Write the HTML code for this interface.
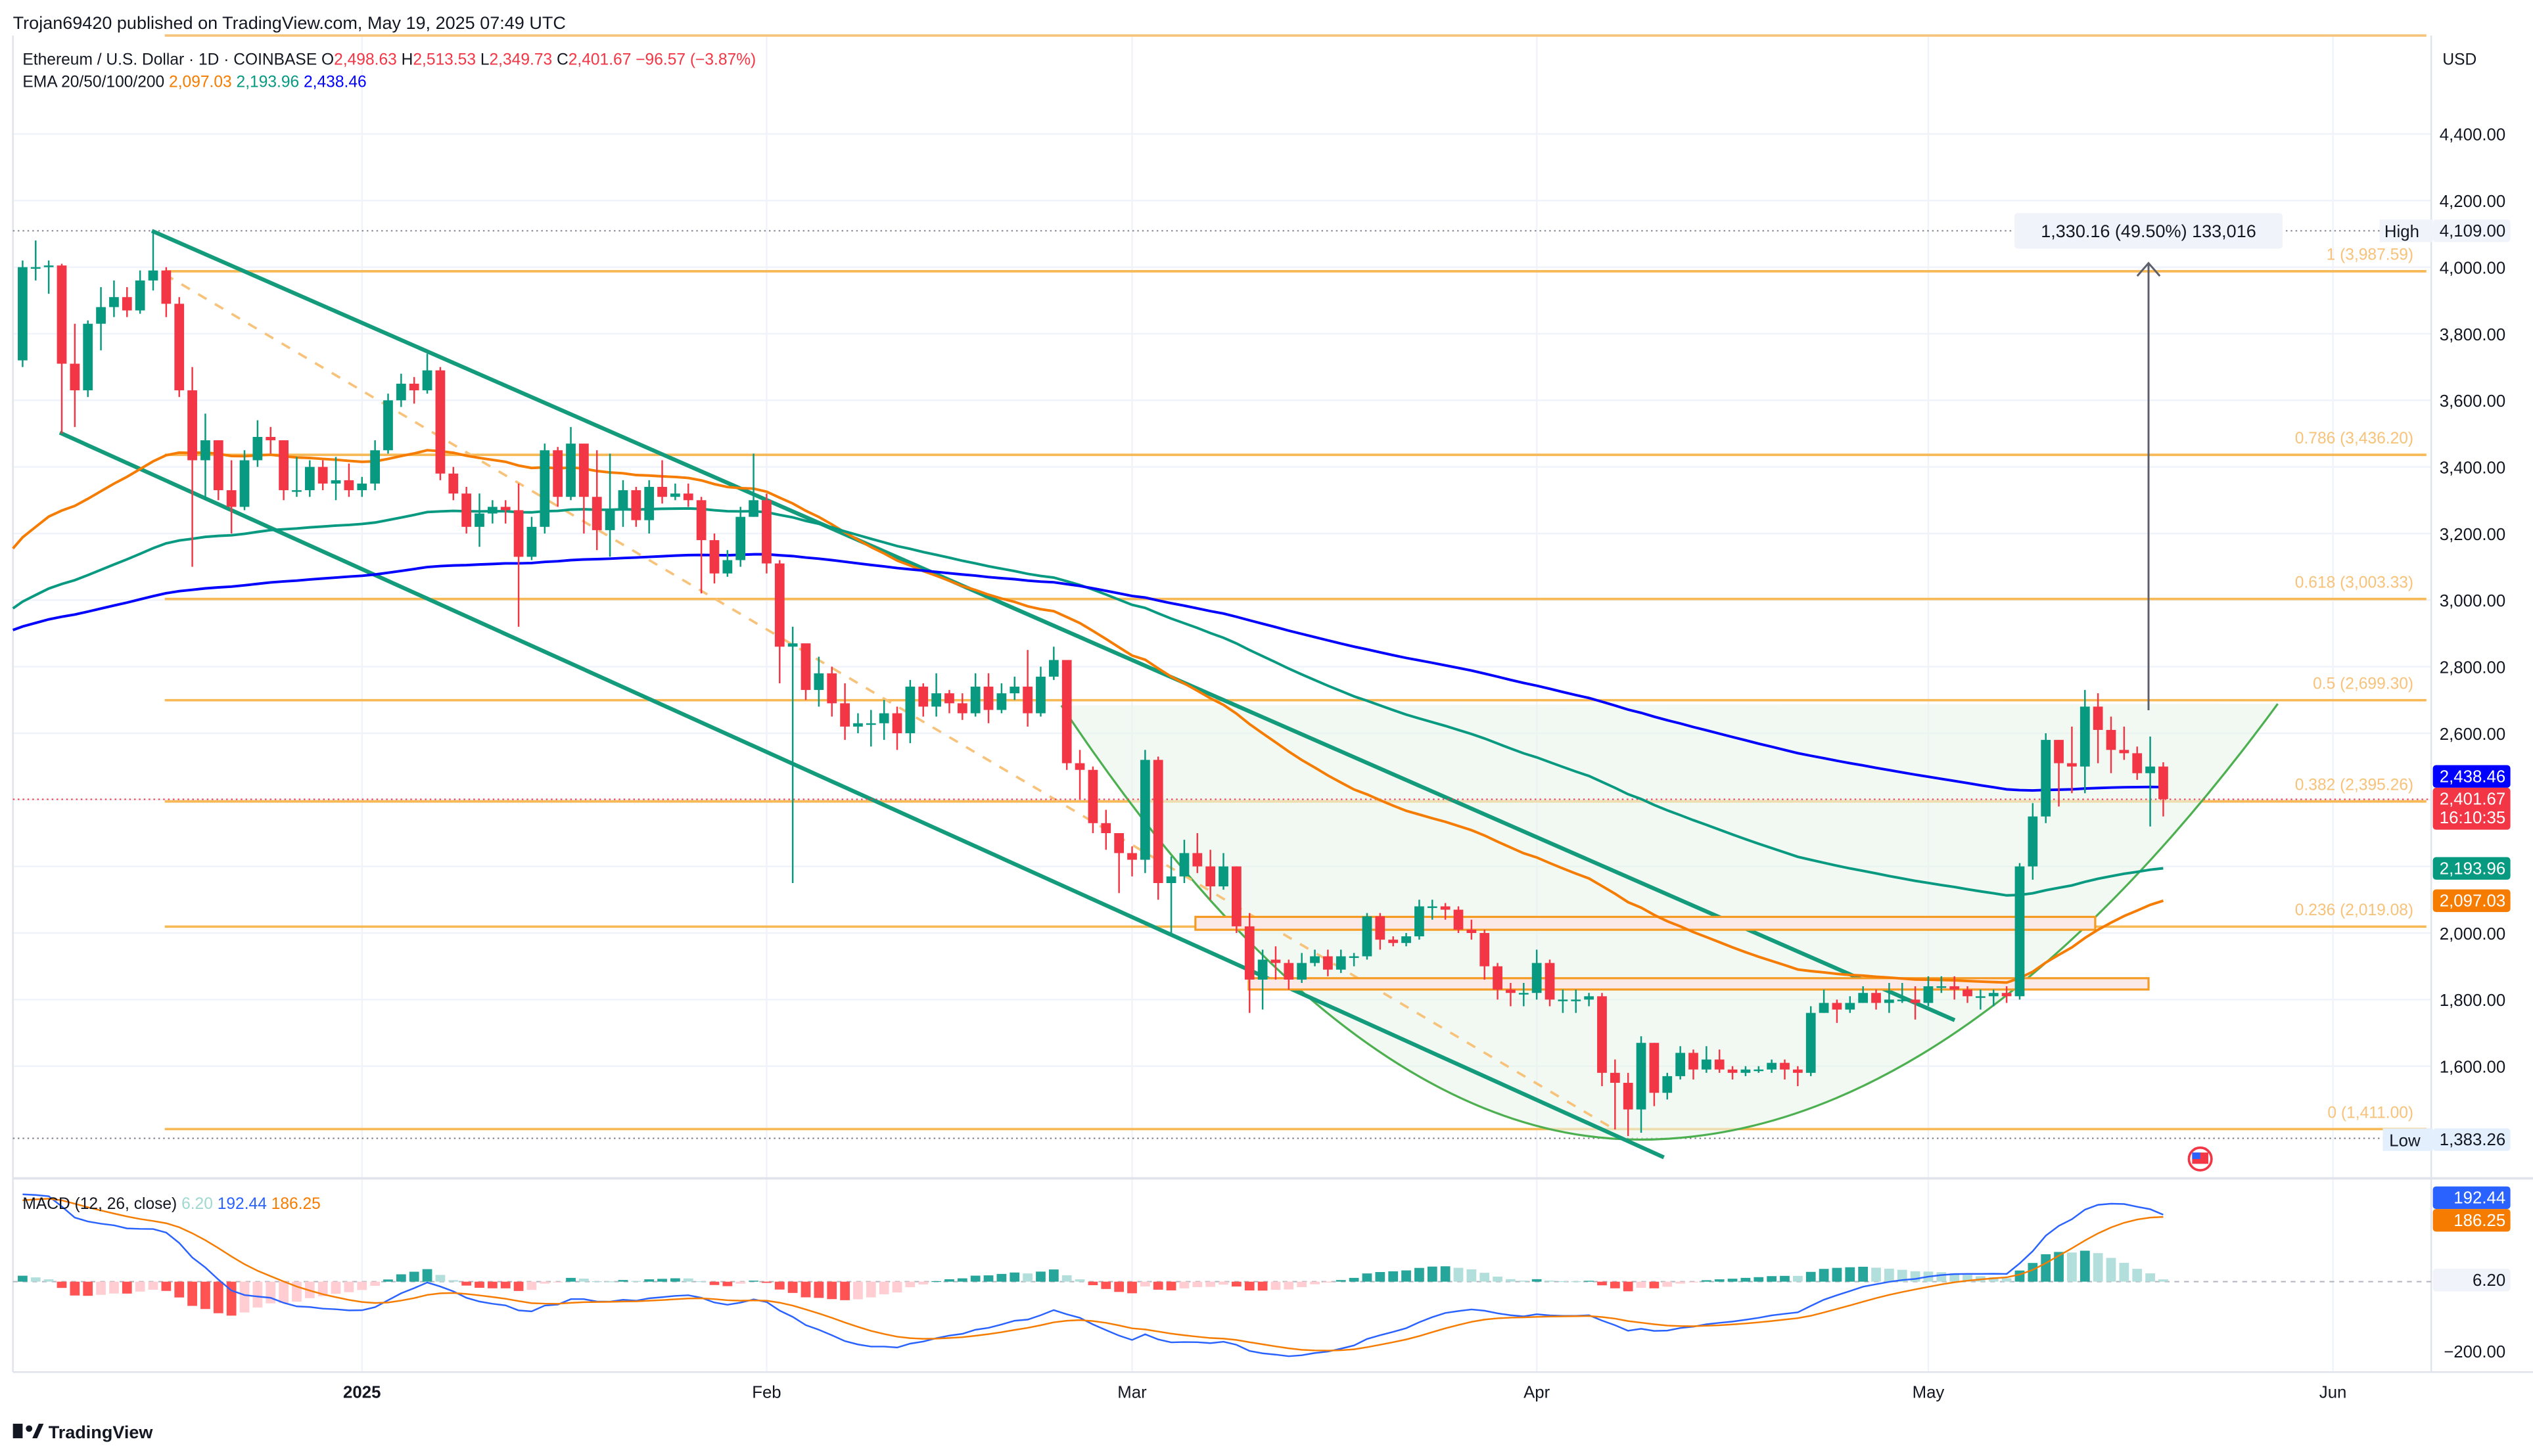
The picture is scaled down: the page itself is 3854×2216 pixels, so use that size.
<!DOCTYPE html>
<html><head><meta charset="utf-8">
<style>
html,body{margin:0;padding:0;background:#fff;}
svg{display:block;font-family:"Liberation Sans",Arial,sans-serif;}
</style></head>
<body>
<svg id="chart" width="3854" height="2216" viewBox="0 0 1568 902" preserveAspectRatio="none" xmlns="http://www.w3.org/2000/svg">
<rect x="0" y="0" width="1568" height="902" fill="#ffffff"/>
<text x="8" y="18" font-size="11" fill="#131722">Trojan69420 published on TradingView.com, May 19, 2025 07:49 UTC</text>
<g id="grid"></g>
<g id="fibs"></g>
<g id="draw"></g>
<g id="emas"></g>
<g id="candles"></g>
<g id="macd"></g>
<g id="axis"></g>
<text x="14" y="40" font-size="10" fill="#131722">Ethereum / U.S. Dollar · 1D · COINBASE  O<tspan fill="#f23645">2,498.63</tspan>  H<tspan fill="#f23645">2,513.53</tspan>  L<tspan fill="#f23645">2,349.73</tspan>  C<tspan fill="#f23645">2,401.67</tspan>  <tspan fill="#f23645">−96.57 (−3.87%)</tspan></text>
<text x="14" y="54" font-size="10" fill="#131722">EMA 20/50/100/200  <tspan fill="#f57c00">2,097.03</tspan>  <tspan fill="#089981">2,193.96</tspan>  <tspan fill="#0000ff">2,438.46</tspan></text>
<text x="14" y="749" font-size="10" fill="#131722">MACD (12, 26, close)  <tspan fill="#9fd8d0">6.20</tspan>  <tspan fill="#2962ff">192.44</tspan>  <tspan fill="#f57c00">186.25</tspan></text>
<text x="1512" y="40" font-size="10" fill="#131722">USD</text>
<g><rect x="8" y="882" width="6" height="9" fill="#131722"/><circle cx="18" cy="885" r="2" fill="#131722"/><path d="M20 891 L24 882 L27 882 L23 891Z" fill="#131722"/><text x="30" y="891" font-size="11" font-weight="bold" fill="#131722">TradingView</text></g>
</svg>
<script>
const closes=[4000,4000,4005,3710,3630,3830,3880,3910,3870,3960,3990,3890,3630,3420,3480,3330,3280,3420,3490,3480,3330,3330,3400,3350,3360,3330,
3350,3450,3600,3650,3630,3690,3380,3320,3220,3260,3280,3270,3130,3220,3450,3310,3470,3310,3210,3270,3330,3240,3340,3310,3320,3300,3180,3080,3120,3250,3300,
3110,2860,2870,2730,2780,2690,2620,2630,2630,2660,2600,2740,2680,2720,2690,2660,2740,2670,2720,2740,2660,2770,2820,2510,2490,2330,2300,2240,
2220,2520,2150,2170,2240,2200,2140,2200,2020,1860,1920,1910,1860,1910,1930,1890,1930,1930,2050,1980,1970,1990,2080,2080,2070,2010,2000,1900,1830,1820,1820,
1910,1800,1800,1800,1810,1580,1550,1470,1670,1520,1570,1640,1590,1620,1590,1580,1590,1590,1610,1590,1580,1760,1790,1770,1790,1820,1790,1800,1800,1790,
1840,1840,1830,1810,1810,1820,1810,2200,2350,2580,2510,2500,2680,2610,2550,2540,2480,2500,2402];
const highs=[4020,4080,4020,4010,3830,3840,3940,3960,3940,3990,4109,4000,3910,3700,3560,3480,3420,3450,3540,3520,3480,3430,3420,3420,3430,3410,
3370,3480,3620,3680,3670,3740,3700,3400,3340,3320,3300,3300,3350,3250,3470,3460,3520,3450,3450,3440,3360,3340,3360,3420,3350,3350,3310,3200,3150,3280,3440,
3320,3120,2920,2820,2830,2800,2750,2660,2670,2700,2680,2760,2750,2780,2730,2720,2780,2780,2750,2770,2850,2800,2860,2820,2550,2500,2370,2300,
2260,2550,2530,2230,2280,2300,2250,2240,2200,2060,1950,1960,1920,1940,1950,1950,1950,1940,2060,2060,1990,2000,2100,2100,2090,2080,2040,2010,1910,1850,1850,
1950,1920,1830,1830,1820,1820,1620,1580,1690,1670,1580,1660,1650,1660,1650,1600,1600,1600,1620,1620,1600,1780,1830,1800,1810,1840,1830,1850,1850,1840,
1870,1870,1870,1840,1830,1830,1840,2210,2390,2600,2580,2620,2730,2720,2650,2620,2560,2590,2513];
const lows=[3700,3960,3920,3500,3520,3610,3750,3850,3850,3860,3930,3850,3610,3100,3300,3300,3200,3270,3400,3440,3300,3310,3310,3330,3300,3310,
3310,3330,3440,3580,3590,3620,3360,3300,3200,3160,3230,3230,2920,3120,3200,3280,3300,3200,3150,3130,3220,3220,3200,3290,3300,3280,3020,3050,3070,3100,3250,
3080,2750,2150,2700,2680,2650,2580,2600,2560,2580,2550,2570,2650,2650,2660,2640,2650,2630,2660,2700,2620,2650,2760,2490,2400,2300,2250,2120,
2170,2180,2100,2000,2150,2180,2100,2130,2000,1760,1770,1860,1830,1850,1900,1870,1880,1900,1920,1950,1960,1960,1980,2040,2040,2000,1980,1860,1800,1780,1780,
1800,1780,1760,1760,1780,1540,1410,1390,1400,1480,1500,1560,1560,1580,1580,1560,1570,1580,1580,1560,1540,1570,1760,1730,1760,1790,1770,1760,1790,1740,
1780,1820,1800,1790,1770,1780,1790,1800,2160,2330,2380,2420,2420,2510,2480,2520,2460,2320,2350];
const firstOpen=3720;
const fibRatios=["1","0.786","0.618","0.5","0.382","0.236","0"];
const fibPrices=[3987.59,3436.20,3003.33,2699.30,2395.26,2019.08,1411.00];
const priceTicks=[4400,4200,4000,3800,3600,3400,3200,3000,2800,2600,2400,2200,2000,1800,1600];
const dateLabels=["2025","Feb","Mar","Apr","May","Jun"];
const dateIdx=[26,57,85,116,146,177];
const emaPeriods=[50,100,200];
const emaSeeds=[3155,2975,2910];
const emaColors=["#f57c00","#089981","#0000ff"];
const emaNames=["ema-50","ema-100","ema-200"];

const NS="http://www.w3.org/2000/svg";
function el(tag,attrs,parent){const e=document.createElementNS(NS,tag);for(const k in attrs)e.setAttribute(k,attrs[k]);parent.appendChild(e);return e;}
const X=i=>14+i*8.08;
const Y=p=>578-(p-2000)*0.20625;
const MY=v=>794-v*0.215;
const fmt=v=>v.toLocaleString('en-US',{minimumFractionDigits:2,maximumFractionDigits:2});
const grid=document.getElementById('grid'),fibs=document.getElementById('fibs'),draw=document.getElementById('draw'),emas=document.getElementById('emas'),cg=document.getElementById('candles'),mg=document.getElementById('macd'),ax=document.getElementById('axis');

// grid
priceTicks.forEach(p=>{const l=el('line',{x1:8,x2:1505,y1:Y(p),y2:Y(p),stroke:'#f0f3fa','stroke-width':1},grid);

});
dateIdx.forEach((d,k)=>{const x=X(d);const l=el('line',{x1:x,x2:x,y1:22,y2:850,stroke:'#f0f3fa','stroke-width':1},grid);


const t=el('text',{x:x,y:866,'font-size':10.5,'text-anchor':'middle',fill:'#131722','font-weight':k==0?'bold':'normal'},grid);t.textContent=dateLabels[k];

});
el('line',{x1:8,x2:1568,y1:730,y2:730,stroke:'#e0e3eb','stroke-width':1.5},grid);
el('line',{x1:1505,x2:1505,y1:22,y2:850,stroke:'#e0e3eb','stroke-width':1},grid);
el('line',{x1:8,x2:1568,y1:850,y2:850,stroke:'#e0e3eb','stroke-width':1},grid);
el('line',{x1:8,x2:8,y1:22,y2:850,stroke:'#e0e3eb','stroke-width':1},grid);
el('line',{x1:8,x2:1505,y1:143,y2:143,stroke:'#787b86','stroke-width':0.8,'stroke-dasharray':'1,2'},grid);
el('line',{x1:8,x2:1505,y1:Y(1383.26),y2:Y(1383.26),stroke:'#787b86','stroke-width':0.8,'stroke-dasharray':'1,2'},grid);

// fibs
el('line',{x1:102,x2:1502,y1:22,y2:22,stroke:'#f7c27a','stroke-width':1.5},fibs);
fibPrices.forEach((p,k)=>{const y=Y(p);const l=el('line',{x1:102,x2:1502,y1:y,y2:y,stroke:'#f7b955','stroke-width':1.5},fibs);


const t=el('text',{x:1494,y:y-7,'font-size':10,'text-anchor':'end',fill:'#f7c27a'},fibs);t.textContent=fibRatios[k]+' ('+fmt(p)+')';

});

// drawings
const fill=el('path',{d:'M657 437 Q836 706 1015 706 Q1212 706 1410 436 Z',fill:'#e8f5e9','fill-opacity':0.6},draw);


const arc=el('path',{d:'M657 437 Q836 706 1015 706 Q1212 706 1410 436',fill:'none',stroke:'#4caf50','stroke-width':1.3},draw);


const ch1=el('line',{x1:94,y1:143,x2:1210,y2:632,stroke:'#139b7b','stroke-width':2.5},draw);


const ch2=el('line',{x1:37,y1:268,x2:1030,y2:717,stroke:'#139b7b','stroke-width':2.5},draw);


const dl=el('line',{x1:102,y1:170,x2:1000,y2:700,stroke:'#f7c27a','stroke-width':1.5,'stroke-dasharray':'6,6'},draw);


const b1=el('rect',{x:740,y:568,width:557,height:8,fill:'#fbe9e7',stroke:'#f59a23','stroke-width':1.3},draw);


const b2=el('rect',{x:773,y:606,width:557,height:7,fill:'#fbe9e7',stroke:'#f59a23','stroke-width':1.3},draw);


const ar=el('line',{x1:1330,y1:440,x2:1330,y2:164,stroke:'#5d606b','stroke-width':1.2},draw);


el('path',{d:'M1323 171 L1330 163 L1337 171',fill:'none',stroke:'#5d606b','stroke-width':1.2},draw);
const mb=el('rect',{x:1247,y:132,width:166,height:22,rx:2,fill:'#f0f3fa'},draw);


const mt=el('text',{x:1330,y:147,'font-size':11,'text-anchor':'middle',fill:'#131722'},draw);mt.textContent='1,330.16 (49.50%) 133,016';


el('line',{x1:8,x2:1505,y1:Y(2401.67),y2:Y(2401.67),stroke:'#f23645','stroke-width':0.8,'stroke-dasharray':'1,2'},draw);

// EMAs
emaPeriods.forEach((per,k)=>{let e=emaSeeds[k];const a=2/(per+1);let d='';
closes.forEach((c,i)=>{e=e+a*(c-e);d+=(i?'L':'M')+X(i).toFixed(1)+' '+Y(e).toFixed(1);});
const p=el('path',{d:'M8 '+Y(emaSeeds[k]).toFixed(1)+' L'+d.slice(1),fill:'none',stroke:emaColors[k],'stroke-width':1.6},emas);

});

// candles
closes.forEach((c,i)=>{const o=i?closes[i-1]:firstOpen;const up=c>=o;const col=up?'#089981':'#f23645';const x=X(i);
const g=el('g',{},cg);


el('line',{x1:x,x2:x,y1:Y(highs[i]),y2:Y(lows[i]),stroke:col,'stroke-width':1},g);
const top=Y(Math.max(o,c)),bot=Y(Math.min(o,c));
el('rect',{x:x-3,y:top,width:6,height:Math.max(1,bot-top),fill:col},g);});

// MACD
let e12=3750,e26=3500,sig=230;const mline=[],sline=[],hist=[];
closes.forEach(c=>{e12+=2/13*(c-e12);e26+=2/27*(c-e26);const m=e12-e26;sig+=2/10*(m-sig);mline.push(m);sline.push(sig);hist.push(m-sig);});
el('line',{x1:8,x2:1505,y1:MY(0),y2:MY(0),stroke:'#b2b5be','stroke-width':0.8,'stroke-dasharray':'3,3'},mg);
hist.forEach((h,i)=>{const prev=i?hist[i-1]:h;let col;
if(h>=0)col=h>=prev?'#26a69a':'#b2dfdb';else col=h<prev?'#ff5252':'#ffcdd2';
const y0=MY(0),y1=MY(h);const r=el('rect',{x:X(i)-3,y:Math.min(y0,y1),width:6,height:Math.max(0.5,Math.abs(y1-y0)),fill:col},mg);

});
[[mline,'#2962ff','macd-line'],[sline,'#f57c00','signal-line']].forEach(([arr,col,nm])=>{let d='';arr.forEach((v,i)=>{d+=(i?'L':'M')+X(i).toFixed(1)+' '+MY(v).toFixed(1);});
const p=el('path',{d:d,fill:'none',stroke:col,'stroke-width':1},mg);

});

// price axis
priceTicks.forEach(p=>{const t=el('text',{x:1551,y:Y(p)+4,'font-size':10.5,'text-anchor':'end',fill:'#131722'},ax);t.textContent=fmt(p);

});
const mt2=el('text',{x:1551,y:MY(-200)+4,'font-size':10.5,'text-anchor':'end',fill:'#131722'},ax);mt2.textContent='−200.00';


function tag(y,h,bg,fg,txt,name,txt2){const r=el('rect',{x:1506,y:y,width:48,height:h,rx:2,fill:bg},ax);


const t=el('text',{x:1551,y:y+10.5,'font-size':10.5,'text-anchor':'end',fill:fg},ax);t.textContent=txt;
if(txt2){const t2=el('text',{x:1551,y:y+22,'font-size':10.5,'text-anchor':'end',fill:fg},ax);t2.textContent=txt2;}}
el('rect',{x:1473,y:136,width:33,height:14,fill:'#f0f3fa'},ax);
el('text',{x:1476,y:147,'font-size':10.5,fill:'#131722'},ax).textContent='High';
tag(136,14,'#f0f3fa','#131722','4,109.00','high-price-tag');
tag(474,14,'#0000ff','#ffffff','2,438.46','ema200-tag');
tag(488,26,'#f23645','#ffffff','2,401.67','last-price-tag','16:10:35');
tag(531,14,'#089981','#ffffff','2,193.96','ema100-tag');
tag(551,14,'#f57c00','#ffffff','2,097.03','ema50-tag');
el('rect',{x:1475,y:699,width:31,height:14,fill:'#e3effd'},ax);
el('text',{x:1479,y:710,'font-size':10.5,fill:'#131722'},ax).textContent='Low';
tag(699,14,'#e3effd','#131722','1,383.26','low-price-tag');
tag(735,14,'#2962ff','#ffffff','192.44','macd-tag');
tag(749,14,'#f57c00','#ffffff','186.25','signal-tag');
tag(786,14,'#f0f3fa','#131722','6.20','histogram-tag');
const fl=el('g',{},ax);


el('circle',{cx:1362,cy:718,r:7,fill:'#fff',stroke:'#f23645','stroke-width':1.5},fl);
el('rect',{x:1357,y:714,width:10,height:7,fill:'#f23645'},fl);
el('rect',{x:1357,y:714,width:5,height:4,fill:'#2962ff'},fl);
</script>
</body></html>
